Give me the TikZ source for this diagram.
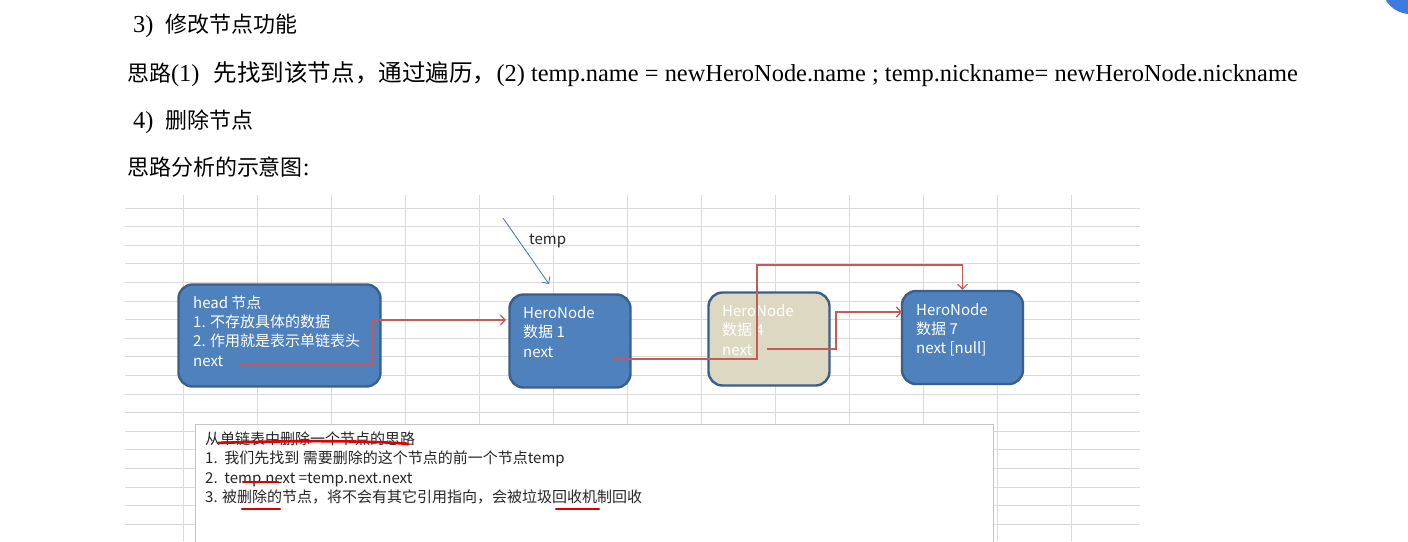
\documentclass[tikz,border=0pt]{standalone}
\usepackage{fontspec}
\setmainfont{Liberation Serif}
\newfontfamily\cjk[Scale=0.9]{Noto Sans CJK SC}
\newfontfamily\xlsfont{Noto Sans CJK SC}
\usetikzlibrary{arrows.meta, positioning, calc}

\definecolor{boxblue}{HTML}{4F81BD}
\definecolor{boxedge}{HTML}{3A5F8E}
\definecolor{boxtan}{HTML}{DDD8C2}
\definecolor{linkred}{HTML}{C65A57}
\definecolor{ptrblue}{HTML}{4A7EBB}
\definecolor{gridgray}{HTML}{DADADA}
\definecolor{notegray}{HTML}{C4C4C4}
\definecolor{markred}{HTML}{E00000}
\definecolor{badgeblue}{HTML}{3D7BE0}

\begin{document}
\begin{tikzpicture}[
    x=1pt, y=-1pt,
    >={Straight Barb[length=5pt,width=10pt]},
    grid/.style={draw=gridgray, line width=0.8pt},
    topline/.style={font=\fontsize{24.4}{28}\selectfont, anchor=base west, inner sep=0pt},
    hnode/.style={draw=boxedge, line width=2.4pt, rounded corners=14pt, fill=boxblue,
                  minimum width=121pt, minimum height=93pt, inner sep=0pt},
    dnode/.style={hnode, fill=boxtan},
    ntext/.style={font=\xlsfont\fontsize{15}{19.3}\selectfont, text=white, align=left,
                  anchor=north west, inner sep=0pt},
    notetext/.style={ntext, text=black!85},
    link/.style={->, draw=linkred, line width=1.1pt},
    ptr/.style={->, draw=ptrblue, line width=0.9pt},
    ulmark/.style={draw=markred, line width=2.6pt, line cap=round},
]
\useasboundingbox (0,0) rectangle (1408,541);
\clip (0,0) rectangle (1408,541);
\fill[badgeblue] (1410,-14) circle (28);
% ----- text above the sheet
\node[topline] (title3) at (133,32) {3)\ \ {\cjk 修改节点功能}};
\node[topline] (idea3) at (127,81) {{\cjk 思路}(1)\hspace{14pt}{\cjk\fontsize{26.2}{28}\selectfont 先找到该节点，通过遍历，}(2) temp.name = newHeroNode.name ; temp.nickname= newHeroNode.nickname};
\node[topline] (title4) at (133,128) {4)\ \ {\cjk 删除节点}};
\node[topline] (idea4) at (127,175) {{\cjk 思路分析的示意图}:};
% ----- sheet grid
\foreach \gx in {0,...,12}
  \draw[grid] ({183+74*\gx},195) -- ({183+74*\gx},541);
\foreach \gy in {0,...,17}
  \draw[grid] (125,{208+18.6*\gy}) -- (1140,{208+18.6*\gy});
% ----- list nodes
\node[hnode, minimum width=202pt, minimum height=102pt] (head) at (279.5,335.5) {};
\node[ntext] (headtxt) at (193,295.5) {head 节点\\1. 不存放具体的数据\\2. 作用就是表示单链表头\\next};
\node[hnode] (n1) at (570,341) {};
\node[ntext] (n1txt) at (523,306.5) {HeroNode\\数据 1\\next};
\node[dnode] (n4) at (769,339) {};
\node[ntext] (n4txt) at (722,304.5) {HeroNode\\数据 4\\next};
\node[hnode] (n7) at (962.5,337.5) {};
\node[ntext] (n7txt) at (916,303) {HeroNode\\数据 7\\next [null]};
% ----- temp pointer
\coordinate (tempfrom) at (503,218);
\coordinate (tempto) at (549,284);
\draw[ptr] (tempfrom) -- (tempto);
\node[notetext, anchor=west] (templbl) at (529,241) {temp};
% ----- next links
\coordinate (hnext) at (239,364);
\coordinate (n1in) at (506,320);
\draw[link] (hnext) -- ++(133,0) |- (n1in);
\coordinate (n1next) at (613,359);
\draw[link] (n1next) -- ++(144,0) -- ++(0,-94) -| (n7.north);
\coordinate (n4next) at (767,349);
\coordinate (n7in) at (902,312);
\draw[link] (n4next) -- ++(69,0) |- (n7in);
% ----- note box
\node[draw=notegray, fill=white, line width=1pt, minimum width=798pt, minimum height=140pt,
      anchor=north west, inner sep=0pt] (note) at (195,424) {};
\node[notetext] (notetxt) at (205,431.5) {从单链表中删除一个节点的思路\\1.\ \ 我们先找到 需要删除的这个节点的前一个节点temp\\2.\ \ temp.next =temp.next.next\\3. 被删除的节点，将不会有其它引用指向，会被垃圾回收机制回收};
\draw[ulmark] (218,443) .. controls (300,440) and (380,441) .. (408,444);
\draw[ulmark] (243,482) -- (278,482);
\draw[ulmark] (242,509) -- (280,509);
\draw[ulmark] (556,509) -- (599,509);
\end{tikzpicture}
\end{document}
